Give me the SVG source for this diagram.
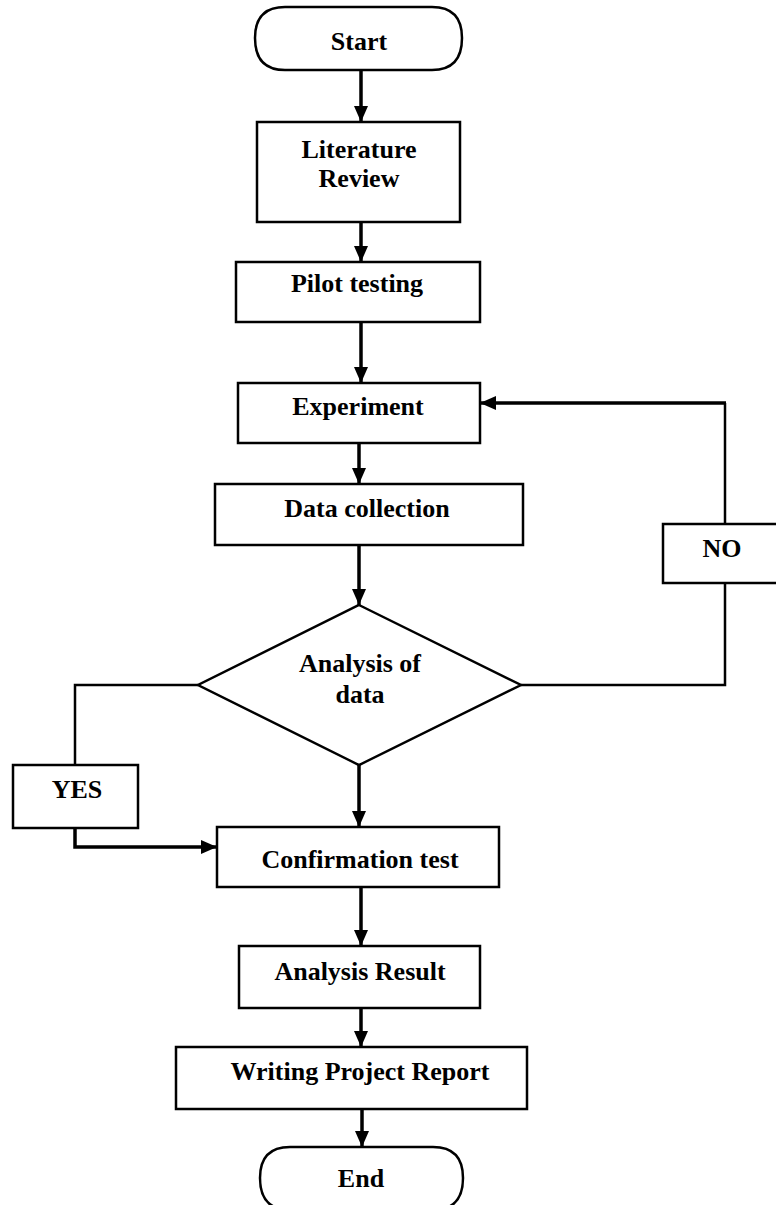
<svg xmlns="http://www.w3.org/2000/svg" width="776" height="1205" viewBox="0 0 776 1205">
<style>
.n{fill:#fff;stroke:#000;stroke-width:2.5}
.t{font-family:"Liberation Serif","Times New Roman",serif;font-weight:bold;font-size:26px;fill:#000;text-anchor:middle}
.c{fill:none;stroke:#000;stroke-width:3.5}
.thin{fill:none;stroke:#000;stroke-width:2.5}
</style>
<defs>
<marker id="ah" markerUnits="userSpaceOnUse" markerWidth="16" markerHeight="16" refX="16" refY="7" orient="auto">
<path d="M0,0 L16,7 L0,14 Z" fill="#000"/>
</marker>
</defs>
<rect width="776" height="1205" fill="#fff"/>
<g id="connectors">
<line class="c" x1="361" y1="70" x2="361" y2="122" marker-end="url(#ah)"/>
<line class="c" x1="361" y1="222" x2="361" y2="262" marker-end="url(#ah)"/>
<line class="c" x1="361" y1="322" x2="361" y2="383" marker-end="url(#ah)"/>
<line class="c" x1="359" y1="443" x2="359" y2="484" marker-end="url(#ah)"/>
<line class="c" x1="359" y1="545" x2="359" y2="605" marker-end="url(#ah)"/>
<line class="c" x1="359" y1="765" x2="359" y2="827" marker-end="url(#ah)"/>
<line class="c" x1="361" y1="887" x2="361" y2="946" marker-end="url(#ah)"/>
<line class="c" x1="361" y1="1008" x2="361" y2="1047" marker-end="url(#ah)"/>
<line class="c" x1="362" y1="1109" x2="362" y2="1147" marker-end="url(#ah)"/>
<polyline class="thin" points="521,685 725,685 725,583"/>
<polyline class="thin" points="725,524 725,403"/>
<polyline class="c" points="726,403 480,403" marker-end="url(#ah)"/>
<polyline class="thin" points="198,685 75,685 75,765"/>
<polyline class="c" points="75,828 75,847 217,847" marker-end="url(#ah)"/>
</g>
<g id="start">
<path class="n" d="M285,7 L432,7 Q462,7 462,38 Q462,70 432,70 L285,70 Q255,70 255,38 Q255,7 285,7 Z"/>
<text class="t" x="359" y="50">Start</text>
</g>
<g id="literature">
<rect class="n" x="257" y="122" width="203" height="100"/>
<text class="t" x="359" y="158">Literature</text>
<text class="t" x="359" y="187">Review</text>
</g>
<g id="pilot">
<rect class="n" x="236" y="262" width="244" height="60"/>
<text class="t" x="357" y="292">Pilot testing</text>
</g>
<g id="experiment">
<rect class="n" x="238" y="383" width="242" height="60"/>
<text class="t" x="358" y="415">Experiment</text>
</g>
<g id="data">
<rect class="n" x="215" y="484" width="308" height="61"/>
<text class="t" x="367" y="517">Data collection</text>
</g>
<g id="analysis">
<polygon class="n" points="359,605 521,685 359,765 198,685"/>
<text class="t" x="360" y="672">Analysis of</text>
<text class="t" x="360" y="703">data</text>
</g>
<g id="no">
<rect class="n" x="663" y="524" width="115" height="59"/>
<text class="t" x="722" y="557">NO</text>
</g>
<g id="yes">
<rect class="n" x="13" y="765" width="125" height="63"/>
<text class="t" x="77" y="798">YES</text>
</g>
<g id="confirmation">
<rect class="n" x="217" y="827" width="282" height="60"/>
<text class="t" x="360" y="868">Confirmation test</text>
</g>
<g id="result">
<rect class="n" x="239" y="946" width="241" height="62"/>
<text class="t" x="360" y="980">Analysis Result</text>
</g>
<g id="writing">
<rect class="n" x="176" y="1047" width="351" height="62"/>
<text class="t" x="360" y="1080">Writing Project Report</text>
</g>
<g id="end">
<path class="n" d="M290,1147 L433,1147 Q463,1147 463,1178 Q463,1210 433,1210 L290,1210 Q260,1210 260,1178 Q260,1147 290,1147 Z"/>
<text class="t" x="361" y="1187">End</text>
</g>
</svg>
